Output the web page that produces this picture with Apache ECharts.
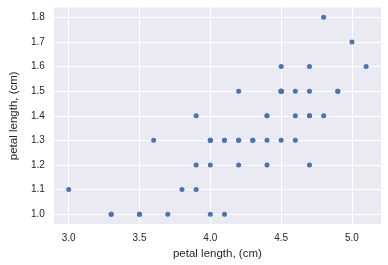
<!DOCTYPE html>
<html><head><meta charset="utf-8">
<script src="https://cdn.jsdelivr.net/npm/echarts@6/dist/echarts.min.js"></script>
<style>html,body{margin:0;padding:0;background:#fff}#c{width:388px;height:265px}</style>
</head><body><div id="c"></div>
<script>
const petalLength = [4.7,4.5,4.9,4.0,4.6,4.5,4.7,3.3,4.6,3.9,3.5,4.2,4.0,4.7,3.6,4.4,4.5,4.1,4.5,3.9,4.8,4.0,4.9,4.7,4.3,4.4,4.8,5.0,4.5,3.5,3.8,3.7,3.9,5.1,4.5,4.5,4.7,4.4,4.1,4.0,4.4,4.6,4.0,3.3,4.2,4.2,4.2,4.3,3.0,4.1];
const petalWidth = [1.4,1.5,1.5,1.3,1.5,1.3,1.6,1.0,1.3,1.4,1.0,1.5,1.0,1.4,1.3,1.4,1.5,1.0,1.5,1.1,1.8,1.3,1.5,1.2,1.3,1.4,1.4,1.7,1.5,1.0,1.1,1.0,1.2,1.6,1.5,1.6,1.5,1.3,1.3,1.3,1.2,1.4,1.2,1.0,1.3,1.2,1.3,1.3,1.1,1.3];
const xTicks = [3.0,3.5,4.0,4.5,5.0];
const yTicks = [1.0,1.1,1.2,1.3,1.4,1.5,1.6,1.7,1.8];
const xLabel = 'petal length, (cm)';
const yLabel = 'petal length, (cm)';

const font = 'Liberation Sans, Arial, sans-serif';
const chart = echarts.init(document.getElementById('c'), null, {renderer:'canvas'});
chart.setOption({
  animation:false,
  backgroundColor:'#ffffff',
  grid:{left:47,right:7,top:7.5,bottom:41,show:true,backgroundColor:'#eaeaf2',borderWidth:0},
  xAxis:{type:'value',min:2.895,max:5.205,
    name:xLabel,nameLocation:'middle',nameGap:23,
    nameTextStyle:{fontFamily:font,fontSize:11.5,color:'#262626'},
    axisLine:{show:false},
    axisTick:{show:false,customValues:xTicks},
    axisLabel:{customValues:xTicks,fontFamily:font,fontSize:10,color:'#262626',margin:9,formatter:v=>v.toFixed(1)},
    splitLine:{show:true,lineStyle:{color:'#ffffff',width:1}}
  },
  yAxis:{type:'value',min:0.96,max:1.84,
    name:yLabel,nameLocation:'middle',nameGap:32,nameRotate:90,
    nameTextStyle:{fontFamily:font,fontSize:11.5,color:'#262626'},
    axisLine:{show:false},
    axisTick:{show:false,customValues:yTicks},
    axisLabel:{customValues:yTicks,fontFamily:font,fontSize:10,color:'#262626',margin:9,formatter:v=>v.toFixed(1)},
    splitLine:{show:true,lineStyle:{color:'#ffffff',width:1}}
  },
  series:[{type:'scatter',symbol:'circle',symbolSize:5,
    itemStyle:{color:'#4c72b0',opacity:1},
    data:petalLength.map((x,i)=>[x,petalWidth[i]])}]
});
</script></body></html>
